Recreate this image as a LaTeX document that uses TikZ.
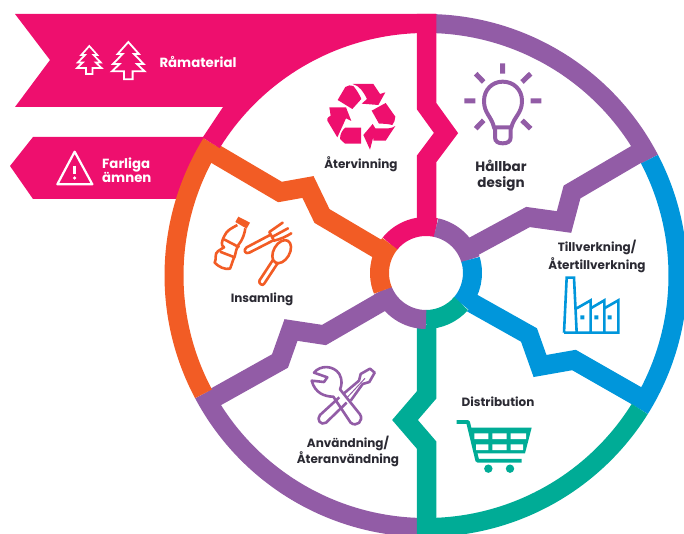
\documentclass[tikz,border=0pt]{standalone}
\usepackage{fontspec}
\setmainfont{Poppins}
\definecolor{cpink}{HTML}{EE0F6E}
\definecolor{cpurple}{HTML}{925CA6}
\definecolor{cblue}{HTML}{0096DB}
\definecolor{cgreen}{HTML}{00AC96}
\definecolor{corange}{HTML}{F25C25}
\definecolor{ctext}{HTML}{2B2A33}
\tikzset{
  spoke/.style={line width=19.5pt,miter limit=10,line join=miter},
  ringseg/.style={line width=19pt},
  hubseg/.style={line width=19pt},
  lab/.style={font=\bfseries\fontsize{12pt}{16pt}\selectfont,text=ctext,align=center,inner sep=0pt},
  wlab/.style={font=\bfseries\fontsize{13.3pt}{13pt}\selectfont,text=white,align=left,inner sep=0pt},
  zoompx/.style={x=0.33333pt,y=-0.33333pt},
}
\newcommand{\ringarc}[3]{\draw[ringseg,#1,shift={(426,-275.5)}] (#2:252) arc[start angle=#2,end angle=#3,radius=252pt];}
\newcommand{\hubarc}[3]{\draw[hubseg,#1,shift={(426,-273)}] (#2:46.5) arc[start angle=#2,end angle=#3,radius=46.5pt];}
\newcommand{\treeshape}{(0,0) -- (32,36) -- (17,36) -- (46,66) -- (26,66) -- (49,88) -- (13,88) -- (13,112) -- (-13,112) -- (-13,88) -- (-49,88) -- (-26,66) -- (-46,66) -- (-17,36) -- (-32,36) -- cycle}
\begin{document}
\begin{tikzpicture}[x=1pt,y=1pt]
\useasboundingbox (0,0) rectangle (684,-534);
\clip (0,0) rectangle (684,-534);
% banners
\fill[cpink] (15,-14) -- (436,-14) -- ([shift={(426,-275.5)}]88:250) arc[start angle=88,end angle=148.3,radius=250pt] -- (203,-137) -- (223,-107) -- (15,-107) -- (50,-60) -- cycle;
\fill[cpink] (33,-137) -- (205,-137) -- (185,-199) -- (33,-199) -- (10,-166) -- cycle;
% spokes under the ring
\draw[spoke,corange] (212,-152) -- (280,-192) -- (308,-187) -- (322,-216) -- (388,-255);
\draw[spoke,cpurple] (642,-151) -- (572,-192) -- (564,-222) -- (528,-217) -- (467,-250);
\draw[spoke,cblue] (472,-303) -- (529,-335) -- (540,-366) -- (574,-360) -- (644,-400);
\draw[spoke,cpurple] (212,-399) -- (280,-361) -- (291,-330) -- (324,-335) -- (388,-298);
% ring
\ringarc{cpurple}{88}{27.5}
\ringarc{cblue}{27.5}{-32}
\ringarc{cgreen}{-32}{-88}
\ringarc{cpurple}{268}{208}
\ringarc{corange}{208}{148.3}
\ringarc{cpink}{148.3}{92}
% straight spokes
\draw[spoke,cpink] (426.5,-14) -- (426.5,-106) -- (446,-133) -- (426.5,-159) -- (426.5,-228);
\draw[spoke,cgreen] (426.5,-325) -- (426.5,-395) -- (405,-420) -- (426.5,-445) -- (426.5,-540);
% hub
\hubarc{cpink}{141}{77.5}
\hubarc{cpurple}{77.5}{17}
\hubarc{cblue}{17}{-41}
\hubarc{cgreen}{-41}{-90}
\hubarc{cpurple}{270}{202}
\hubarc{corange}{202}{141}
% labels
\node[wlab] (ramaterial) at (198,-62) {Råmaterial};
\node[wlab,anchor=west] (farliga) at (102,-170) {Farliga\\[-1pt]ämnen};
\node[lab] (atervinning) at (361,-164) {Återvinning};
\node[lab,font=\bfseries\fontsize{13.5pt}{16pt}\selectfont] (hallbar) at (501,-176) {Hållbar\\design};
\node[lab] (tillverkning) at (597,-256) {Tillverkning/\\[2pt]Återtillverkning};
\node[lab] (insamling) at (262,-299) {Insamling};
\node[lab] (distribution) at (498,-402) {Distribution};
\node[lab] (anvandning) at (348,-451) {Användning/\\Återanvändning};
% trees
\begin{scope}[shift={(128.3,-42)},zoompx]
\draw[white,line width=1.8pt] \treeshape;
\end{scope}
\begin{scope}[shift={(89.3,-46)},x=0.25pt,y=-0.25pt]
\draw[white,line width=1.7pt] \treeshape;
\end{scope}
% warning sign
\begin{scope}[zoompx]
\draw[white,line width=2.2pt,line join=round] (224,455) -- (172,553) -- (277,553) -- cycle;
\draw[white,line width=3pt] (224,497) -- (224,522);
\fill[white] (224,534) circle[radius=1.8pt];
\end{scope}
% recycle
\begin{scope}[shift={(320,-75)},zoompx]
\fill[cpink] (53,75) -- (76,36) .. controls (84,30) and (92,30) .. (100,33) .. controls (110,45) and (118,58) .. (124,72) -- (97,102) -- cycle;
\fill[cpink] (98,27) -- (160,27) -- (180,57) -- (196,52) -- (175,90) -- (125,86) -- (141,72) .. controls (130,50) and (118,32) .. (98,27) -- cycle;
\fill[cpink] (155,107) -- (197,84) -- (226,125) .. controls (226,135) and (222,143) .. (217,150) .. controls (200,146) and (190,146) .. (177,146) -- cycle;
\fill[cpink] (226,153) -- (197,197) -- (160,197) -- (160,186) -- (150,224) -- (130,180) -- (158,147) -- (166,160) -- (205,160) .. controls (212,160) and (220,157) .. (226,153) -- cycle;
\fill[cpink] (60,192) .. controls (60,176) and (67,165) .. (76,158) -- (123,158) -- (123,206) -- (75,206) -- cycle;
\fill[cpink] (28,97) -- (78,97) -- (94,138) -- (78,130) -- (52,187) -- (22,137) .. controls (20,132) and (22,128) .. (32,122) -- cycle;
\end{scope}
% light bulb
\begin{scope}[shift={(300,-50)},zoompx]
\draw[cpurple,line width=4pt] (582,232) .. controls (575,200) and (552,190) .. (552,153) .. controls (552,118) and (578,95) .. (608,95) .. controls (640,95) and (666,118) .. (666,153) .. controls (666,190) and (642,200) .. (634,232) -- cycle;
\draw[cpurple,line width=4pt] (585,232) -- (585,262) .. controls (585,275) and (595,280) .. (608,280) .. controls (622,280) and (632,275) .. (632,262) -- (632,232);
\draw[cpurple,line width=5pt]
  (608,40) -- (608,71) (692,153) -- (724,153) (493,153) -- (526,153)
  (527,71) -- (551,96) (692,71) -- (666,96) (527,236) -- (551,211) (692,236) -- (666,211);
\end{scope}
% factory
\begin{scope}[shift={(520,-220)},zoompx]
\draw[cblue,line width=2.6pt,line join=miter]
  (132,338) -- (140,173) -- (162,173) -- (170,338)
  (132,338) -- (295,338) -- (295,241) -- (253,265) -- (253,241) -- (212,265) -- (212,241) -- (170,265)
  (212,265) -- (212,338) (253,265) -- (253,338);
\fill[cblue] (181,286) rectangle (193,298) (223,286) rectangle (235,298) (263,286) rectangle (275,298);
\end{scope}
% cart
\begin{scope}[shift={(290,-350)},zoompx]
\draw[cgreen,line width=3.8pt,line join=round] (500,216) -- (534,216) -- (562,332) -- (695,332);
\fill[cgreen] (540,233) -- (725,233) -- (705,310) -- (555,310) -- cycle;
\fill[white] (553,250) rectangle (595,267) (607,250) rectangle (650,267) (662,250) rectangle (708,267)
  (558,283) rectangle (595,300) (607,283) rectangle (650,300) (662,283) rectangle (699,300);
\fill[cgreen] (595,356) circle[radius=4.2pt] (660,356) circle[radius=4.2pt];
\end{scope}
% tools
\begin{scope}[shift={(310,-360)},zoompx]
\draw[cpurple,line width=2.6pt,line join=round] (88,112) -- (30,165) .. controls (18,178) and (32,198) .. (48,188) -- (110,128);
\draw[cpurple,line width=2.6pt,line join=round] (12,38) .. controls (30,15) and (70,15) .. (88,42) .. controls (98,60) and (95,78) .. (90,88) -- (150,163) .. controls (162,182) and (140,203) .. (122,188) -- (70,110) .. controls (45,110) and (15,100) .. (5,62) -- (42,66) -- (52,52) -- cycle;
\draw[cpurple,line width=2.6pt,line join=round] (102,100) -- (147,62) -- (152,42) -- (180,26) -- (194,38) -- (178,66) -- (158,72) -- (122,122);
\draw[cpurple,line width=1pt] (112,112) -- (165,55);
\end{scope}
% bottle and cutlery
\begin{scope}[shift={(200,-210)},zoompx]
\draw[corange,line width=2.6pt,line join=round] (112,45) .. controls (95,55) and (80,60) .. (72,80) .. controls (65,95) and (62,105) .. (72,112) .. controls (60,120) and (45,125) .. (47,140) .. controls (50,148) and (44,150) .. (44,158) .. controls (55,170) and (75,180) .. (90,176) .. controls (95,165) and (98,150) .. (104,140) .. controls (108,125) and (108,118) .. (115,105) .. controls (128,90) and (134,70) .. (136,55);
\draw[corange,line width=2.6pt] (72,88) -- (118,112) (60,125) -- (104,142);
\fill[corange] (115,20) -- (150,38) -- (140,56) -- (106,36) -- cycle;
\draw[corange,line width=2.6pt,line join=round] (212,74) -- (140,112) .. controls (128,120) and (136,134) .. (148,128) -- (222,90);
\draw[corange,line width=2.6pt,line join=round,line cap=round] (248,38) -- (208,66) -- (222,92) .. controls (240,88) and (258,80) .. (274,70) (264,55) -- (218,80);
\draw[corange,line width=2.6pt,line join=round] (178,212) -- (220,148) (192,222) -- (236,155);
\draw[corange,line width=2.6pt,fill=white] (245,125) ellipse[x radius=8pt,y radius=12.5pt,rotate=-30];
\draw[corange,line width=2.6pt,line cap=round] (178,212) .. controls (176,222) and (188,228) .. (192,222);
\end{scope}
\end{tikzpicture}
\end{document}
